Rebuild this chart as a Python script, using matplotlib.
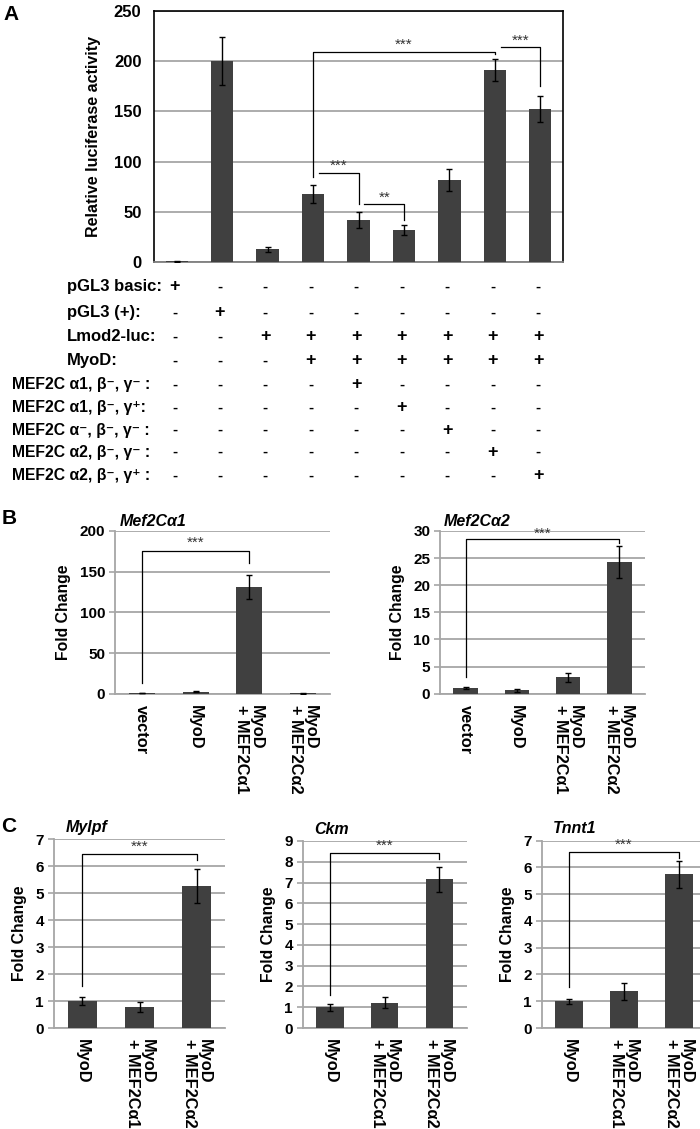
import matplotlib
matplotlib.use("Agg")
import matplotlib.pyplot as plt
import matplotlib.transforms as mtransforms
from matplotlib import font_manager
import numpy as np

# ---- data ----
a_vals = [1, 200, 13, 68, 42, 32, 82, 191, 152]
a_errs = [0.4, 24, 2.5, 9, 7.5, 5, 11, 11, 13]

row_labels = ["pGL3 basic:", "pGL3 (+):", "Lmod2-luc:", "MyoD:",
              "MEF2C α1, β⁻, γ⁻ :", "MEF2C α1, β⁻, γ⁺:", "MEF2C α⁻, β⁻, γ⁻ :",
              "MEF2C α2, β⁻, γ⁻ :", "MEF2C α2, β⁻, γ⁺ :"]
row_signs = ["+--------",
             "-+-------",
             "--+++++++",
             "---++++++",
             "----+----",
             "-----+---",
             "------+--",
             "-------+-",
             "--------+"]

b_cats = ["vector", "MyoD", "MyoD\n+ MEF2Cα1", "MyoD\n+ MEF2Cα2"]
b1_vals = [0.8, 2.5, 131, 0.3]
b1_errs = [0.4, 0.6, 15, 0.2]
b2_vals = [1.0, 0.6, 3.0, 24.3]
b2_errs = [0.15, 0.3, 0.85, 3.0]

c_cats = ["MyoD", "MyoD\n+ MEF2Cα1", "MyoD\n+ MEF2Cα2"]
mylpf_vals = [1.0, 0.77, 5.27]
mylpf_errs = [0.15, 0.19, 0.62]
ckm_vals = [1.0, 1.22, 7.16]
ckm_errs = [0.16, 0.26, 0.6]
tnnt1_vals = [1.0, 1.37, 5.74]
tnnt1_errs = [0.1, 0.31, 0.5]

# ---- fonts ----
names = {f.name for f in font_manager.fontManager.ttflist}
NARROW = ["Liberation Sans Narrow", "Liberation Sans", "DejaVu Sans"]
if "Liberation Sans Narrow" not in names:
    NARROW = ["Liberation Sans", "DejaVu Sans"]
ARIAL = ["Liberation Sans", "DejaVu Sans"]
plt.rcParams['font.family'] = ARIAL

W, H = 700, 1129
BAR = "#404040"
GRID = "#a6a6a6"

fig = plt.figure(figsize=(W / 100, H / 100), dpi=100)


def px_axes(left, top, right, bottom):
    return fig.add_axes([left / W, 1 - bottom / H, (right - left) / W, (bottom - top) / H])


def bars(ax, vals, errs, width=0.5):
    x = np.arange(len(vals))
    ax.bar(x, vals, width=width, color=BAR, zorder=3)
    ax.errorbar(x, vals, yerr=errs, fmt="none", ecolor="black", elinewidth=1,
                capsize=2.5, capthick=1, zorder=4)
    ax.set_xlim(-0.5, len(vals) - 0.5)
    return x


def bracket(ax, x1, x2, y, yl, yr, label, ty, tx=None, size=11):
    ax.plot([x1, x1, x2, x2], [yl, y, y, yr], color="black", lw=0.9, zorder=5,
            clip_on=False)
    if tx is None:
        tx = (x1 + x2) / 2
    ax.text(tx, ty, label, ha="center", va="center", fontsize=size,
            color="#333333", zorder=6)


def fold_style(ax, ymax, step):
    ax.set_ylim(0, ymax)
    ax.set_yticks(np.arange(0, ymax + step / 2, step))
    ax.grid(axis="y", color=GRID, lw=1.3, zorder=0)
    ax.set_axisbelow(True)
    for s in ["top", "right"]:
        ax.spines[s].set_visible(False)
    for s in ["left", "bottom"]:
        ax.spines[s].set_color(GRID)
        ax.spines[s].set_linewidth(1.3)
    ax.tick_params(axis="y", length=4, width=1.2, color=GRID, pad=3)
    ax.tick_params(axis="x", length=0, pad=8)
    for t in ax.get_yticklabels():
        t.set_fontfamily(NARROW)
        t.set_fontweight("bold")
        t.set_fontsize(11)
    ax.set_ylabel("Fold Change", fontsize=11.3, fontweight="bold", labelpad=6)


def cat_labels(ax, cats):
    ax.set_xticks(np.arange(len(cats)))
    ax.set_xticklabels(cats, rotation=270, va="top", ha="center",
                       multialignment="left", fontsize=11.8, fontweight="bold",
                       linespacing=1.0)


# ---- panel A ----
axA = px_axes(154, 10.7, 563, 262.3)
xa = bars(axA, a_vals, a_errs, width=0.49)
axA.set_ylim(0, 250)
axA.set_yticks(np.arange(0, 251, 50))
axA.set_xticks([])
axA.grid(axis="y", color=GRID, lw=1.3, zorder=0)
axA.set_axisbelow(True)
for s in ["left", "top", "right"]:
    axA.spines[s].set_color("black")
    axA.spines[s].set_linewidth(1.2)
axA.spines["bottom"].set_color("#7f7f7f")
axA.spines["bottom"].set_linewidth(1.3)
axA.tick_params(axis="y", length=0, pad=9)
for t in axA.get_yticklabels():
    t.set_fontfamily(NARROW)
    t.set_fontweight("bold")
    t.set_fontsize(12)
axA.set_ylabel("Relative luciferase activity", fontsize=11.5, fontweight="bold",
               labelpad=9)

bracket(axA, 3, 7, 209, 85, 207, "***", 216, tx=5)
bracket(axA, 7.13, 8, 214, 214, 175, "***", 220.5)
bracket(axA, 3.13, 4, 89, 89, 58, "***", 95.5)
bracket(axA, 4.13, 5, 58, 58, 42, "**", 64)

# table under panel A
trans = mtransforms.blended_transform_factory(axA.transData, fig.transFigure)
row_y = [286.7, 312.7, 336.7, 360.7, 385, 407.7, 430, 452, 475.7]
for i, (lab, signs) in enumerate(zip(row_labels, row_signs)):
    yy = 1 - row_y[i] / H
    lx = 67 if i < 4 else 12.5
    fig.text(lx / W, yy, lab, ha="left", va="center", fontsize=12 if i < 4 else 11.3,
             fontweight="bold", family=NARROW)
    for j, s in enumerate(signs):
        fig.text(xa[j] - 0.05, yy, s, transform=trans, ha="center", va="center",
                 fontsize=13 if s == "+" else 11, fontweight="bold",
                 family=ARIAL)

# ---- panel B ----
axB1 = px_axes(115, 531, 330, 693.7)
bars(axB1, b1_vals, b1_errs, width=0.48)
fold_style(axB1, 200, 50)
cat_labels(axB1, b_cats)
bracket(axB1, 0, 2, 175, 13, 161, "***", 185.5, tx=1)
axB1.text(0.02, 1.06, "Mef2Cα1", transform=axB1.transAxes, fontsize=11.5,
          fontweight="bold", style="italic", family=NARROW, va="center")

axB2 = px_axes(440, 531, 645, 693.7)
bars(axB2, b2_vals, b2_errs, width=0.48)
fold_style(axB2, 30, 5)
cat_labels(axB2, b_cats)
bracket(axB2, 0, 3, 28.6, 3.0, 27.8, "***", 29.4, tx=1.5)
axB2.text(0.02, 1.06, "Mef2Cα2", transform=axB2.transAxes, fontsize=11.5,
          fontweight="bold", style="italic", family=NARROW, va="center")

# ---- panel C ----
c_specs = [
    ((53.6, 839.3, 225.4, 1028), mylpf_vals, mylpf_errs, 7, "Mylpf", (6.46, 1.56, 6.22, 6.74)),
    ((302.7, 841, 466.5, 1028), ckm_vals, ckm_errs, 9, "Ckm", (8.41, 1.59, 8.15, 8.76)),
    ((541.5, 840.7, 706.5, 1028), tnnt1_vals, tnnt1_errs, 7, "Tnnt1", (6.59, 1.52, 6.36, 6.84)),
]
for box, vals, errs, ymax, title, br in c_specs:
    ax = px_axes(*box)
    bars(ax, vals, errs, width=0.5)
    fold_style(ax, ymax, 1)
    cat_labels(ax, c_cats)
    bracket(ax, 0, 2, br[0], br[1], br[2], "***", br[3], tx=1)
    ax.text(0.07, 1.0 + 12 / (box[3] - box[1]), title, transform=ax.transAxes,
            fontsize=11.5, fontweight="bold", style="italic", family=NARROW,
            va="center")

# panel letters
for lab, x, y in [("A", 11, 15), ("B", 9, 519), ("C", 9, 827)]:
    fig.text(x / W, 1 - y / H, lab, fontsize=15, fontweight="bold",
             ha="center", va="center", family=ARIAL)

fig.savefig("out.png", dpi=100)
